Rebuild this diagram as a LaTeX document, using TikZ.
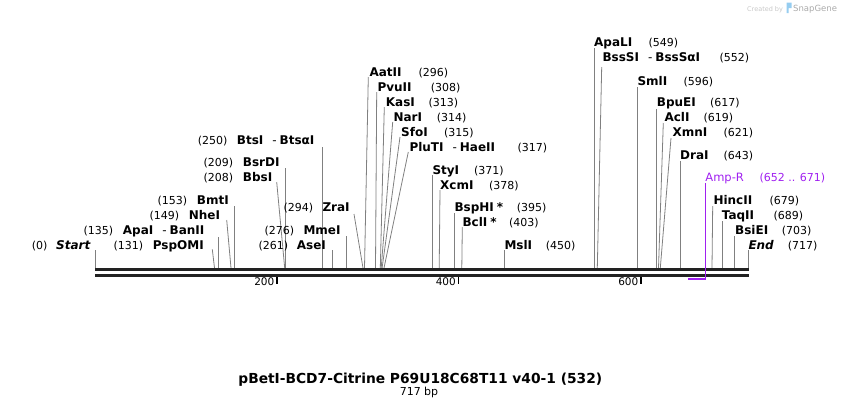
\documentclass[tikz,border=0pt]{standalone}
\usepackage{fontspec}
\setmainfont{DejaVu Sans}
\definecolor{cutgray}{RGB}{128,128,128}
\definecolor{bbone}{RGB}{34,34,34}
\definecolor{featpurple}{RGB}{160,32,240}
\definecolor{credgray}{RGB}{200,200,200}
\definecolor{logoblue}{RGB}{150,205,240}
\tikzset{
  nm/.style={font=\bfseries\fontsize{12}{12}\selectfont, anchor=base west, inner sep=0pt},
  num/.style={font=\fontsize{11}{11}\selectfont, anchor=base west, inner sep=0pt},
  cutline/.style={draw=cutgray, line width=0.8pt},
  backbone/.style={draw=bbone, line width=3pt},
  ticklbl/.style={font=\fontsize{10.5}{10.5}\selectfont, anchor=base east, inner sep=0pt},
}
% id, cutx, topx, topy, namex, basey, name, numx, num
\newcommand\sitelbl[9]{%
  \node[nm] (n#1) at (#5,#6) {#7};
  \node[num] (v#1) at (#8,#6) {(#9)};
  \coordinate (c#1) at (#2,268);
  \coordinate (t#1) at (#3,#4);
  \draw[cutline] (c#1) -- (t#1);
}
\newcommand\dsh{{\mdseries -}}
\begin{document}
\begin{tikzpicture}[x=1pt,y=-1pt]
\useasboundingbox (0,0) rectangle (844,408);
% left-side labels
\sitelbl{a}{95.7}{95.7}{250}{56}{249}{\itshape Start}{31.7}{0}
\sitelbl{b}{214.5}{212.3}{249.3}{152.7}{249}{PspOMI}{113.3}{131}
\sitelbl{c}{218.5}{218.5}{237}{122.7}{234}{ApaI\hspace{9pt}\dsh\hspace{3pt}BanII}{83.3}{135}
\sitelbl{d}{231}{226.7}{220}{188.7}{219}{NheI}{149.3}{149}
\sitelbl{e}{234.5}{234.5}{206}{196.7}{204}{BmtI}{157.3}{153}
\sitelbl{f}{284.7}{276.7}{182}{242.7}{181}{BbsI}{203.3}{208}
\sitelbl{g}{285.6}{285.6}{168}{242.7}{166}{BsrDI}{203.3}{209}
\sitelbl{h}{322.5}{322.5}{147}{236.7}{144}{BtsI\hspace{9pt}\dsh\hspace{3pt}BtsαI}{197.7}{250}
\sitelbl{i}{332.5}{332.5}{250}{296.7}{249}{AseI}{258.3}{261}
\sitelbl{j}{346.7}{346.7}{236}{303.3}{234}{MmeI}{264.3}{276}
\sitelbl{k}{363}{354}{214}{322.3}{211.5}{ZraI}{283.3}{294}
% right-side labels
\sitelbl{l}{364.5}{368.3}{77}{369.3}{76}{AatII}{418.3}{296}
\sitelbl{m}{375.5}{376.7}{92}{377.3}{91}{PvuII}{430.7}{308}
\sitelbl{n}{380.3}{384.3}{107}{385.7}{106}{KasI}{428.3}{313}
\sitelbl{o}{381.2}{392.7}{122}{393.3}{121}{NarI}{436.7}{314}
\sitelbl{p}{382.1}{400}{137}{401}{136}{SfoI}{444}{315}
\sitelbl{q}{384}{408.3}{152}{409.3}{151}{PluTI\hspace{9pt}\dsh\hspace{3pt}HaeII}{517.3}{317}
\sitelbl{r}{432.5}{432.5}{175}{432.3}{174}{StyI}{474}{371}
\sitelbl{s}{439.2}{440}{190}{440}{189}{XcmI}{489}{378}
\sitelbl{t}{454.5}{454.5}{213}{454.3}{211.5}{BspHI\hspace{3pt}*}{516.7}{395}
\sitelbl{u}{461.8}{462.3}{227}{462.3}{226}{BclI\hspace{3pt}*}{509}{403}
\sitelbl{w}{504.5}{504.5}{250}{504.3}{249}{MslI}{545.7}{450}
\sitelbl{x}{594.5}{594.5}{48}{594}{46}{ApaLI}{648.3}{549}
\sitelbl{y}{597.3}{601.7}{67}{602.3}{61}{BssSI\hspace{9pt}\dsh\hspace{3pt}BssSαI}{719.3}{552}
\sitelbl{z}{637.5}{637.5}{87}{637.3}{85}{SmlI}{683.3}{596}
\sitelbl{aa}{656.7}{656.7}{109}{656.7}{106}{BpuEI}{710}{617}
\sitelbl{ab}{658.5}{663.3}{123}{664.3}{121}{AclI}{703.3}{619}
\sitelbl{ac}{660.3}{671}{138}{672.3}{136}{XmnI}{723.3}{621}
\sitelbl{ad}{680.3}{680.3}{161}{680}{159}{DraI}{723.3}{643}
\sitelbl{ae}{712}{712.7}{206}{713.3}{204}{HincII}{769.3}{679}
\sitelbl{af}{722.3}{722.3}{221}{721.7}{219}{TaqII}{773.3}{689}
\sitelbl{ag}{734.7}{734.7}{236}{735}{234}{BsiEI}{781.7}{703}
\sitelbl{ah}{748.3}{748.3}{250}{748.3}{249}{\itshape End}{787.7}{717}
% backbone
\coordinate (b1L) at (95,269.5); \coordinate (b1R) at (749,269.5);
\coordinate (b2L) at (95,275.5); \coordinate (b2R) at (749,275.5);
\draw[backbone] (b1L) -- (b1R);
\draw[backbone] (b2L) -- (b2R);
% ticks
\foreach \tx/\tl in {277/200, 458.5/400, 641/600}{
  \coordinate (tk\tl a) at (\tx,277);
  \coordinate (tk\tl b) at (\tx,284);
  \draw[black, line width=1.2pt] (tk\tl a) -- (tk\tl b);
  \node[ticklbl] (tl\tl) at (\tx-2.5,285.5) {\tl};
}
% Amp-R feature
\node[font=\fontsize{11.5}{11.5}\selectfont, text=featpurple, anchor=base west, inner sep=0pt] (ampn) at (705.2,181) {Amp-R};
\node[font=\fontsize{11}{11}\selectfont, text=featpurple, anchor=base west, inner sep=0pt] (ampv) at (759.3,181) {(652 .. 671)};
\coordinate (ampT) at (705.7,183);
\coordinate (ampB) at (705.7,279);
\coordinate (ampL) at (688,279);
\draw[featpurple, line width=0.9pt] (ampT) -- (ampB);
\draw[featpurple, line width=2pt] (ampL) -- ([xshift=0.5pt]ampB);
% title
\node[font=\bfseries\fontsize{13.8}{13.8}\selectfont, anchor=base, inner sep=0pt] (title) at (420.3,383.5) {pBetI-BCD7-Citrine P69U18C68T11 v40-1 (532)};
\node[font=\fontsize{11}{11}\selectfont, anchor=base, inner sep=0pt] (bp) at (419,395.5) {717 bp};
% credit
\node[font=\fontsize{6.5}{6.5}\selectfont, text=credgray, anchor=base west, inner sep=0pt] (cred) at (747,11) {Created by};
\fill[logoblue] (786.5,2.5) -- (791.5,2.5) -- (791.5,8) -- (788.5,8) -- (788.5,13) -- (786.5,13) -- cycle;
\node[font=\fontsize{8.5}{8.5}\selectfont, text=credgray!85!black, anchor=base west, inner sep=0pt] (snap) at (793,11.5) {SnapGene};
\end{tikzpicture}
\end{document}
